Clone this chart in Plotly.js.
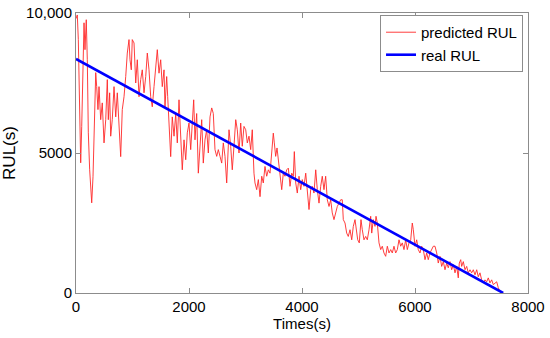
<!DOCTYPE html>
<html><head><meta charset="utf-8">
<script src="https://cdn.plot.ly/plotly-3.0.1.min.js"></script>
<style>body{margin:0;background:#fff}</style>
</head><body><div id="chart" style="width:550px;height:338px"></div>
<script>
const predTime = [0,23,41,65,83,101,124,142,159,182,200,218,242,260,278,301,319,349,366,389,407,437,465,496,526,554,572,596,614,642,673,703,731,761,791,819,850,880,908,938,956,979,996,1027,1057,1085,1115,1145,1173,1204,1234,1262,1292,1322,1350,1381,1411,1439,1469,1499,1527,1558,
1575,1605,1623,1646,1676,1704,1735,1765,1793,1823,1853,1881,1912,1942,1970,2000,2030,2058,2083,2106,2136,2165,2195,2225,2253,2283,2313,2342,2372,2402,2430,2460,2490,2519,2549,2579,2607,2637,2667,2685,2708,2738,2766,2796,2827,2855,2885,2915,2943,2973,3004,3032,3062,3092,3120,3150,
3168,3198,3227,3257,3287,3315,3345,3375,3404,3434,3464,3492,3510,3534,3558,3581,3611,3641,3669,3699,3729,3758,3788,3818,3846,3864,3889,3917,3947,3977,4005,4035,4066,4094,4124,4154,4182,4212,4243,4271,4301,4331,4359,4389,4419,4448,4478,4508,4536,4566,4596,4625,4655,4685,4713,4731,
4761,4791,4819,4850,4880,4908,4938,4956,4986,5014,5044,5067,5097,5127,5156,5186,5216,5234,5262,5292,5310,5333,5363,5393,5421,5451,5481,5510,5540,5570,5598,5628,5658,5687,5717,5747,5775,5805,5835,5864,5894,5924,5952,5970,6000,6030,6058,6088,6118,6147,6177,6207,6235,6265,6295,6324,
6354,6384,6412,6442,6472,6501,6531,6561,6589,6619,6649,6678,6708,6738,6766,6784,6809,6826,6855,6885,6915,6943,6973,7003,7032,7062,7092,7120,7150,7180,7209,7239,7269,7297,7327,7357,7386,7416,7446,7474,7504,7534,7563];
const predRUL = [9800,9930,9050,6550,4650,5940,8940,9650,8690,9760,8330,5720,4400,3940,3220,4150,5360,7870,7370,6550,7370,6190,6790,5360,6190,7620,6190,7150,5600,6190,7370,6290,7150,5940,4870,6550,7010,7730,8570,9050,8330,7970,9050,8930,7500,8330,7010,7620,7970,7150,7730,8570,7970,7010,6650,7370,8090,8690,7850,8330,7370,7970,
6650,7730,7010,6070,4870,6290,5600,6410,5360,6900,5830,4400,5470,4760,5720,6070,5120,6290,6900,5470,6410,4280,5470,6190,4640,5470,5830,5000,6290,6610,6410,5120,4880,5120,4880,4640,5360,4880,3930,4880,5830,5240,4400,5240,6190,5830,5000,6070,5240,5950,5830,5360,5600,5120,5830,4280,
3930,3690,4050,3440,4170,3930,4520,4170,4400,4280,5000,5710,5360,4880,5180,4760,4400,3690,4280,4170,4400,4460,3810,4280,4170,5050,3930,3570,4170,3690,4050,3810,4280,3690,2980,3690,3810,3570,4400,3690,3210,3810,4170,3690,4170,3330,3090,3330,2860,2620,2860,3090,3210,3330,3330,2620,
2500,2140,2020,2260,1900,2380,2620,2260,1900,1790,2620,2260,1900,2020,1900,2260,2740,2140,2620,2380,2740,2500,1790,1550,1670,1430,1310,1670,1430,1550,1430,1670,1430,1550,1900,1670,1790,1550,1900,1550,1790,1900,2500,2260,1670,1900,1550,1430,1670,1550,1190,1430,1190,1430,1550,1670,
1670,1430,1070,1310,950,1120,830,1070,900,1120,830,1010,720,950,540,1070,1190,950,1120,830,950,720,830,720,830,650,830,580,720,470,360,470,400,540,360,470,300,360,400,190,50,0,0];
const realTime = [0, 7560];
const realRUL = [8360, 0];
const seriesNames = ['predicted RUL', 'real RUL'];
const xTickVals = [0, 2000, 4000, 6000, 8000];
const xTickText = ['0', '2000', '4000', '6000', '8000'];
const yTickVals = [0, 5000, 10000];
const yTickText = ['0', '5000', '10,000'];

const FONT = 'Arial, "Liberation Sans", Helvetica, sans-serif';
const axisCommon = {
  showline: true, linecolor: '#8c8c8c', linewidth: 1, mirror: 'ticks',
  ticks: 'inside', ticklen: 5, tickcolor: '#8c8c8c', tickwidth: 1,
  showgrid: false, zeroline: false,
  tickfont: {family: FONT, size: 15, color: '#000'}
};
const data = [
  {x: predTime, y: predRUL, type: 'scatter', mode: 'lines', name: seriesNames[0],
   line: {color: 'rgb(255,40,40)', width: 0.9}},
  {x: realTime, y: realRUL, type: 'scatter', mode: 'lines', name: seriesNames[1],
   line: {color: '#0000ff', width: 2.6}}
];
const layout = {
  width: 550, height: 338,
  margin: {l: 76, r: 22, t: 13, b: 45},
  paper_bgcolor: '#fff', plot_bgcolor: '#fff',
  font: {family: FONT, size: 15, color: '#000'},
  showlegend: true,
  legend: {x: 0.989, xanchor: 'right', y: 0.993, yanchor: 'top',
           bgcolor: '#fff', bordercolor: '#8c8c8c', borderwidth: 1,
           font: {family: FONT, size: 15, color: '#000'}, itemwidth: 30, tracegroupgap: 0},
  xaxis: Object.assign({}, axisCommon, {range: [0, 8000], tickvals: xTickVals, ticktext: xTickText,
           title: {text: 'Times(s)', font: {family: FONT, size: 15, color: '#000'}, standoff: 3}}),
  yaxis: Object.assign({}, axisCommon, {range: [0, 10000], tickvals: yTickVals, ticktext: yTickText,
           title: {text: 'RUL(s)', font: {family: FONT, size: 17, color: '#000'}, standoff: 8}})
};
Plotly.newPlot('chart', data, layout, {displayModeBar: false, staticPlot: true});
</script>
</body></html>
